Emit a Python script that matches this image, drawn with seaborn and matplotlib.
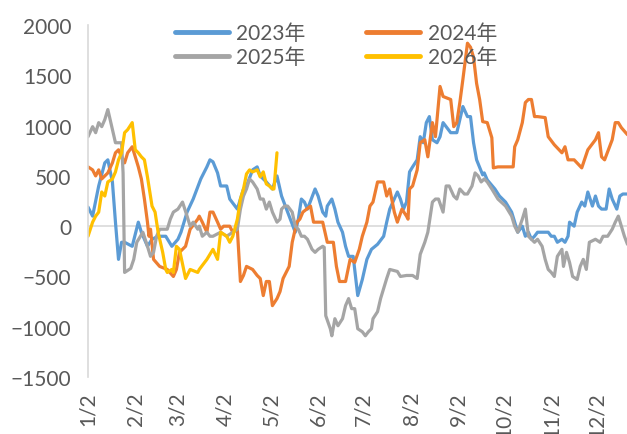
import numpy as np
import pandas as pd
import matplotlib
matplotlib.use('Agg')
import matplotlib.pyplot as plt
import seaborn as sns

sns.set_style('white')
plt.rcParams['font.family'] = ['Lato', 'Noto Sans CJK SC', 'DejaVu Sans']

### month tick positions (day of year) and labels
tick_days = [1, 32, 60, 91, 121, 152, 182, 213, 244, 274, 305, 335]
tick_labels = ['1/2', '2/2', '3/2', '4/2', '5/2', '6/2', '7/2', '8/2', '9/2', '10/2', '11/2', '12/2']

### 2023
d2023 = [1, 4, 8, 12, 14, 17, 19, 21, 23, 25, 30, 34, 36, 40, 43, 47, 52, 56, 60, 62, 66, 70, 75, 79, 81, 83, 86, 88,
         92, 94, 99, 101, 103, 105, 109, 112, 114, 118, 122, 125, 128, 132, 137, 139, 141, 143, 145, 150, 152, 155,
         157, 158, 161, 163, 165, 168, 170, 172, 175, 178, 181, 184, 187, 191, 195, 197, 199, 204, 206, 208, 210,
         212, 214, 217, 219, 221, 223, 225, 227, 230, 232, 234, 239, 243, 245, 247, 250, 252, 254, 256, 260, 261,
         263, 268, 271, 275, 279, 281, 283, 286, 288, 290, 292, 294, 296, 299, 303, 305, 307, 309, 312, 314, 316,
         317, 320, 322, 325, 327, 329, 332, 334, 336, 338, 341, 343, 345, 348, 350, 352, 355]
v2023 = [190, 100, 400, 630, 660, 440, 40, -330, -160, -160, -200, 40, -60, -200, -130, -100, -100, -200, -130, -60,
         140, 270, 470, 590, 660, 640, 530, 400, 400, 270, 170, 270, 370, 400, 560, 590, 500, 440, 370, 500, 300, 140,
         -60, 70, 270, 240, 170, 370, 300, 140, 100, 200, 270, 170, 40, -60, -200, -300, -300, -690, -530, -330,
         -230, -180, -100, 40, 170, 340, 270, 170, 240, 540, 590, 660, 890, 830, 1030, 1090, 860, 830, 890, 1030,
         930, 930, 1060, 1190, 1090, 1090, 830, 660, 510, 530, 460, 370, 300, 240, 140, 40, -60, 0, -100, -60,
         -130, -100, -60, -60, -60, -100, -100, -160, -130, -160, -100, 40, 0, 140, 240, 200, 340, 200, 300, 200,
         170, 170, 370, 270, 170, 300, 320, 320]

### 2024
d2024 = [1, 4, 6, 8, 10, 12, 14, 17, 19, 21, 23, 25, 27, 30, 32, 34, 36, 38, 40, 41, 42, 44, 48, 53, 57, 59, 61, 65,
         68, 73, 74, 76, 79, 81, 83, 86, 88, 90, 94, 96, 99, 101, 103, 105, 109, 112, 114, 116, 118, 120, 122, 125,
         127, 129, 132, 133, 135, 138, 140, 142, 147, 149, 152, 155, 158, 162, 164, 166, 170, 173, 176, 179, 181,
         184, 186, 188, 191, 195, 197, 199, 202, 204, 207, 210, 211, 212, 214, 217, 219, 222, 224, 227, 229, 232,
         234, 239, 241, 243, 245, 247, 250, 252, 254, 256, 258, 260, 263, 266, 267, 270, 277, 280, 281, 283, 286,
         288, 290, 292, 294, 296, 301, 303, 307, 312, 314, 316, 320, 325, 329, 334, 336, 338, 340, 345, 347, 349,
         351, 355]
v2024 = [590, 560, 500, 560, 470, 500, 530, 630, 730, 760, 690, 630, 730, 790, 690, 590, 470, 270, 40, -100, -30,
         -330, -400, -430, -500, -430, -260, -200, -30, 70, 100, 40, -60, 140, 140, 40, -30, 0, 0, -60, -30, -550,
         -490, -400, -430, -490, -520, -690, -550, -550, -790, -720, -650, -520, -430, -400, -160, 40, 70, 140, 200,
         40, 40, 40, -160, -160, -400, -550, -550, -330, -360, -230, -100, 40, 200, 240, 440, 440, 300, 370, 140,
         40, 170, 100, 70, 370, 400, 560, 830, 860, 690, 1030, 890, 1390, 1290, 1260, 990, 1030, 1230, 1460, 1820,
         1780, 1680, 1420, 1260, 1040, 1030, 880, 580, 590, 590, 590, 790, 860, 1030, 1230, 1260, 1260, 1090,
         1090, 1080, 890, 810, 730, 790, 660, 660, 580, 760, 860, 930, 690, 660, 860, 1030, 1030, 980, 910]

### 2025
d2025 = [1, 4, 6, 8, 10, 12, 14, 17, 19, 21, 23, 24, 25, 29, 31, 33, 37, 40, 42, 44, 46, 48, 53, 55, 57, 60, 63, 66,
         68, 70, 73, 74, 76, 79, 81, 83, 88, 92, 96, 99, 101, 103, 105, 107, 109, 112, 114, 116, 118, 120, 122, 125,
         127, 128, 130, 132, 135, 137, 139, 141, 143, 145, 148, 150, 152, 155, 156, 157, 160, 161, 163, 165, 168,
         170, 172, 174, 176, 178, 181, 183, 185, 187, 188, 191, 193, 195, 197, 199, 204, 206, 210, 214, 217, 219,
         222, 224, 227, 229, 231, 234, 236, 238, 241, 243, 245, 248, 250, 253, 255, 257, 259, 261, 263, 266, 270,
         275, 279, 281, 283, 286, 288, 290, 292, 294, 296, 299, 301, 303, 305, 307, 309, 312, 313, 315, 317, 319,
         322, 324, 326, 328, 330, 334, 337, 339, 342, 345, 347, 349, 351, 353, 355]
v2025 = [890, 990, 930, 1030, 990, 1060, 1160, 960, 830, 830, 830, 530, -460, -420, -330, -160, -60, -200, -300,
         -260, -100, -30, -30, 70, 140, 170, 240, 100, 0, 40, -30, 0, -100, -60, -100, -100, -60, -100, -60, -30,
         170, 300, 370, 470, 440, 370, 270, 270, 170, 240, 140, 40, 70, 170, 200, 200, 140, 0, -30, -100, -100,
         -130, -230, -260, -230, -200, -210, -890, -1020, -1090, -920, -990, -920, -790, -720, -820, -820, -1020,
         -1050, -1090, -1050, -1020, -920, -850, -720, -620, -520, -430, -450, -500, -490, -490, -520, -280, -160,
         -60, 240, 270, 270, 140, 400, 400, 300, 270, 370, 320, 320, 400, 530, 500, 440, 470, 440, 370, 270, 200,
         100, 0, -60, 70, 170, -100, -130, -160, -130, -200, -330, -430, -460, -500, -300, -230, -400, -260, -360,
         -500, -530, -400, -330, -430, -160, -130, -160, -100, -100, -30, 40, 100, 0, -100, -180]

### 2026
d2026 = [1, 4, 6, 8, 10, 12, 14, 17, 19, 21, 23, 25, 27, 30, 32, 34, 36, 38, 40, 43, 45, 47, 50, 52, 53, 56, 57, 59,
         61, 65, 68, 73, 74, 79, 83, 86, 88, 92, 94, 96, 99, 101, 103, 105, 107, 109, 112, 114, 116, 118, 120, 122,
         123, 125]
v2026 = [-100, 40, 100, 140, 340, 300, 440, 470, 540, 660, 730, 930, 960, 1030, 760, 730, 690, 660, 490, 200, 140,
         -60, -260, -430, -460, -430, -460, -200, -230, -520, -430, -460, -430, -330, -230, -330, -60, -100, -160,
         -100, 70, 270, 370, 520, 560, 540, 560, 490, 540, 420, 400, 370, 370, 730]

years = ['2023年', '2024年', '2025年', '2026年']
colors = ['#5B9BD5', '#ED7D31', '#A5A5A5', '#FFC000']
series = [(d2023, v2023), (d2024, v2024), (d2025, v2025), (d2026, v2026)]

fig = plt.figure(figsize=(6.27, 4.35), dpi=100)
ax = fig.add_axes([0.1404, 0.131, 0.8596, 0.809])

ax.axhline(0, color='#d9d9d9', lw=1.2, zorder=0)

for (d, v), name, c in zip(series, years, colors):
    df = pd.DataFrame({'day': d, 'value': v})
    sns.lineplot(data=df, x='day', y='value', ax=ax, color=c, lw=2.3, estimator=None, label=name)

ax.set_xlim(1, 354.7)
ax.set_ylim(-1500, 2000)
ax.set_yticks(np.arange(-1500, 2001, 500))
ax.set_xticks(tick_days)
ax.set_xticklabels(tick_labels, rotation=90)
ax.set_xlabel('')
ax.set_ylabel('')
ax.tick_params(axis='both', length=0, labelsize=15, labelcolor='#595959')
ax.tick_params(axis='x', pad=10)
ax.tick_params(axis='y', pad=12)

for s in ['top', 'right', 'bottom']:
    ax.spines[s].set_visible(False)
ax.spines['left'].set_color('#d9d9d9')
ax.spines['left'].set_linewidth(1.2)

h, l = ax.get_legend_handles_labels()
order = [0, 2, 1, 3]
leg = ax.legend([h[i] for i in order], [l[i] for i in order], ncol=2, frameon=False,
                loc='upper left', bbox_to_anchor=(0.279, 0.945), bbox_transform=fig.transFigure,
                borderaxespad=0, borderpad=0, handlelength=2.6, handletextpad=0.35,
                columnspacing=2.9, labelspacing=0.2, fontsize=15)
for t in leg.get_texts():
    t.set_color('#595959')
for ln in leg.get_lines():
    ln.set_linewidth(3.5)

fig.savefig('out.png', dpi=100)
